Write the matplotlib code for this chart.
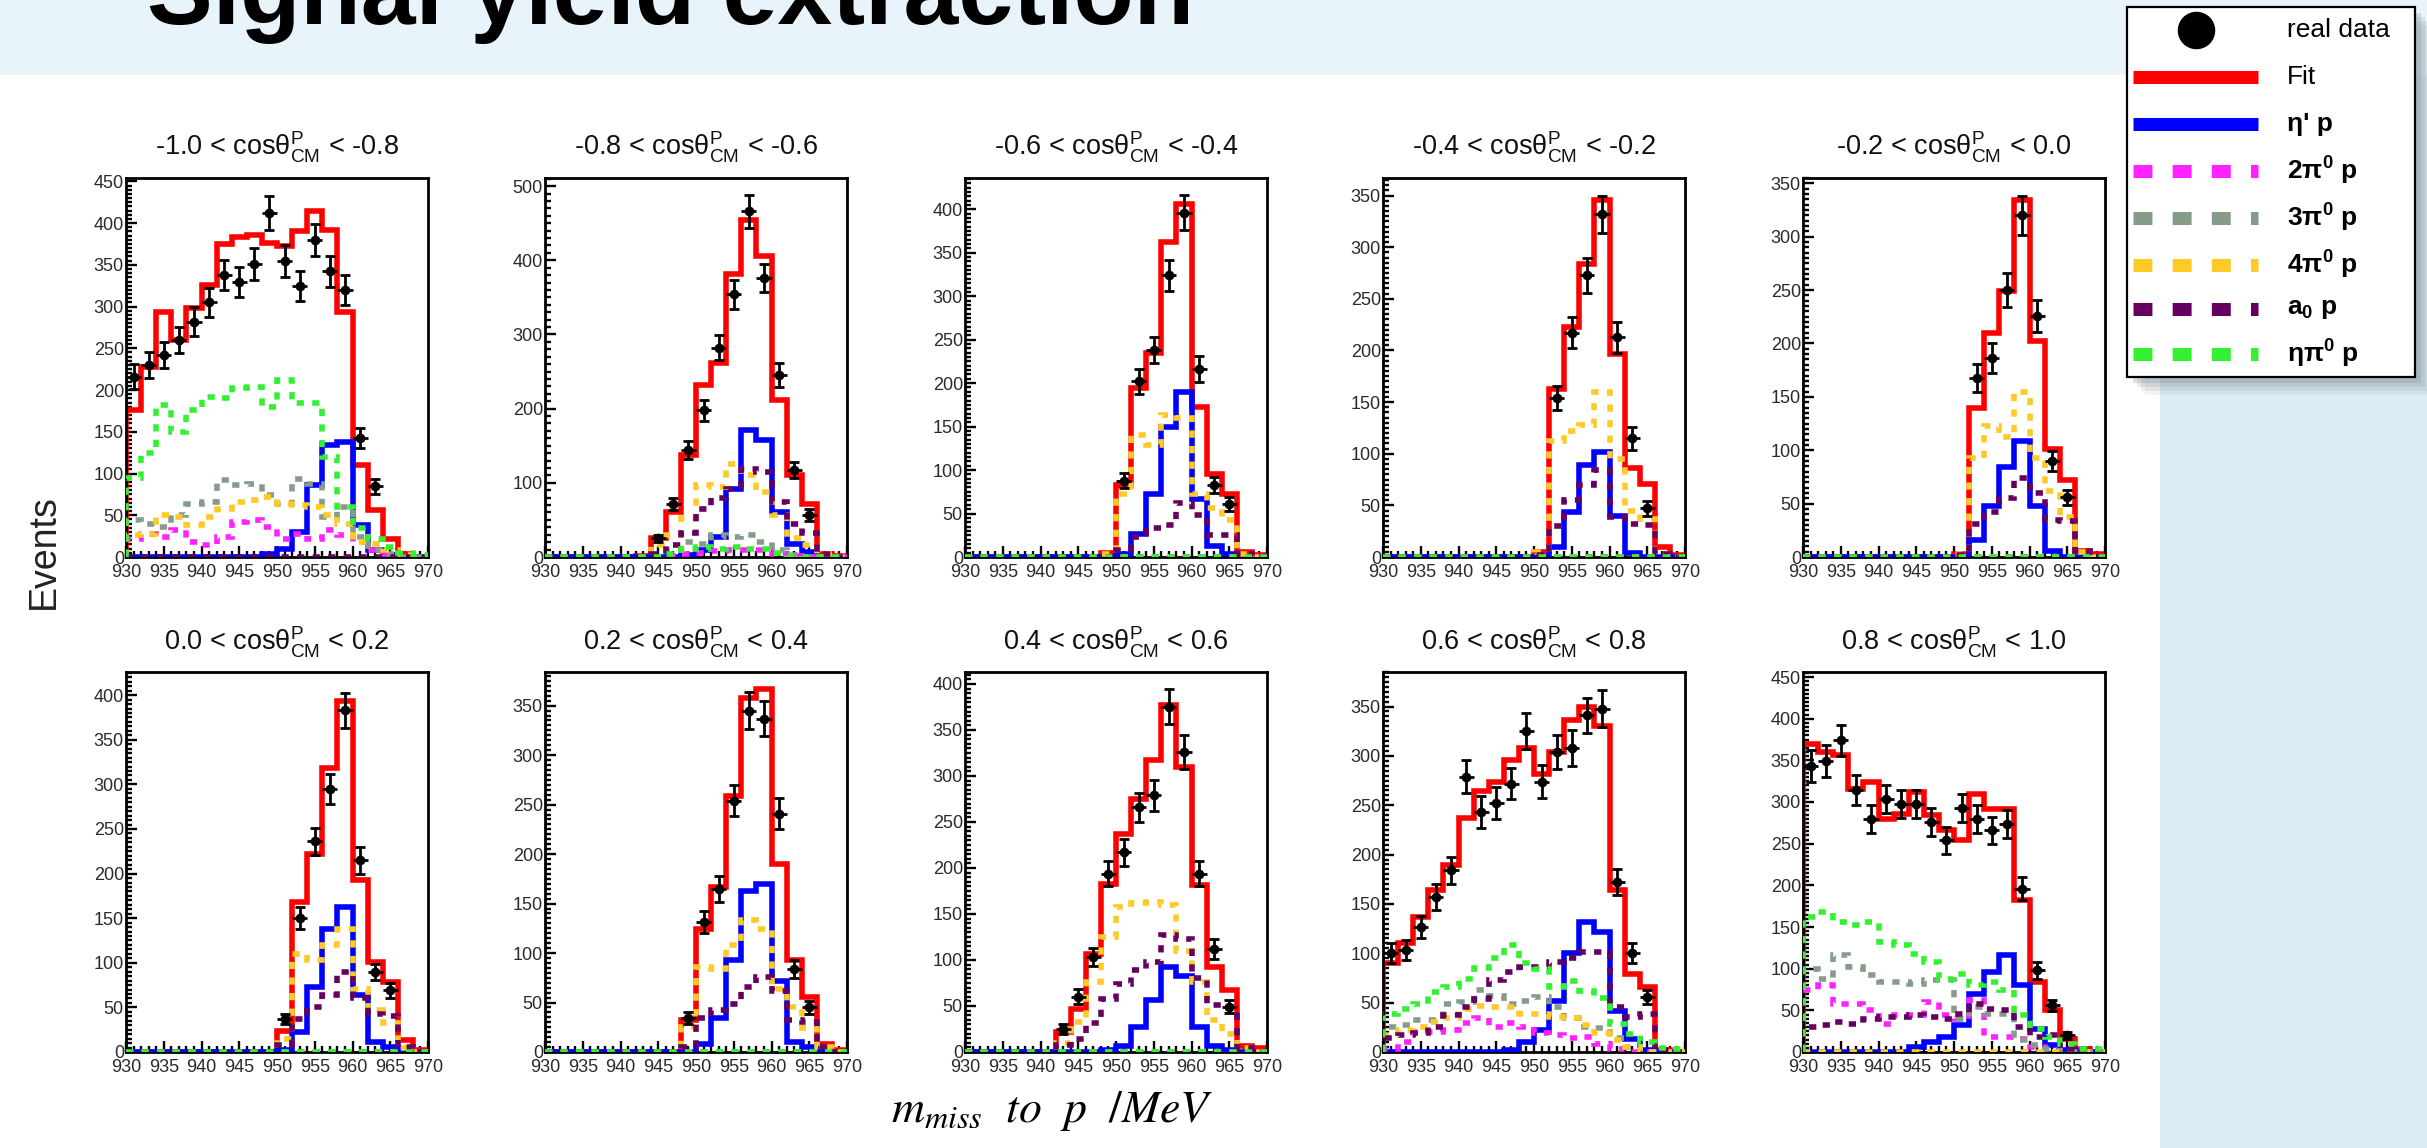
import numpy as np
import matplotlib
matplotlib.use("Agg")
import matplotlib.pyplot as plt
from matplotlib.ticker import MultipleLocator
from matplotlib.patches import Rectangle
from matplotlib.lines import Line2D

plt.rcParams['font.family'] = ['Liberation Sans', 'DejaVu Sans']
plt.rcParams['mathtext.fontset'] = 'custom'
plt.rcParams['mathtext.rm'] = 'Liberation Sans'
plt.rcParams['mathtext.it'] = 'Liberation Sans:italic'
plt.rcParams['mathtext.bf'] = 'Liberation Sans:bold'

nan = float('nan')

# ---------------- data ----------------
bin_edges = [930, 932, 934, 936, 938, 940, 942, 944, 946, 948, 950,
             952, 954, 956, 958, 960, 962, 964, 966, 968, 970]

cos_ranges = [("-1.0", "-0.8"), ("-0.8", "-0.6"), ("-0.6", "-0.4"), ("-0.4", "-0.2"),
              ("-0.2", "0.0"), ("0.0", "0.2"), ("0.2", "0.4"), ("0.4", "0.6"),
              ("0.6", "0.8"), ("0.8", "1.0")]

y_max = [454, 511, 436, 367, 355, 426, 384, 413, 385, 456]
y_step = [50, 100, 50, 50, 50, 50, 50, 50, 50, 50]

fit_counts = [
    [176, 228, 294, 260, 298, 326, 375, 383, 386, 376, 372, 390, 414, 392, 294, 110, 56, 22, 3, 0],
    [0, 0, 0, 0, 0, 0, 2, 25, 61, 137, 232, 261, 382, 455, 406, 212, 110, 72, 4, 1],
    [0, 0, 0, 0, 0, 0, 0, 0, 0, 5, 83, 194, 235, 362, 406, 173, 96, 73, 6, 2],
    [0, 0, 0, 0, 0, 0, 0, 0, 0, 0, 5, 163, 223, 284, 346, 197, 86, 71, 10, 2],
    [0, 0, 0, 0, 0, 0, 0, 0, 0, 0, 3, 140, 210, 249, 334, 202, 101, 72, 6, 3],
    [0, 0, 0, 0, 0, 0, 0, 0, 0, 0, 24, 168, 222, 318, 393, 193, 101, 79, 13, 2],
    [0, 0, 0, 0, 0, 0, 0, 0, 0, 32, 124, 167, 259, 358, 367, 190, 93, 56, 8, 2],
    [0, 0, 0, 0, 0, 0, 22, 47, 107, 183, 237, 275, 317, 377, 310, 181, 92, 67, 7, 4],
    [90, 110, 137, 164, 189, 237, 264, 274, 296, 308, 282, 304, 336, 350, 330, 164, 79, 66, 2, 0],
    [370, 360, 356, 316, 324, 280, 286, 312, 284, 266, 254, 310, 292, 292, 182, 84, 50, 16, 4, 0],
]

etap_counts = [
    [0, 0, 0, 0, 0, 0, 0, 0, 0, 3, 10, 30, 86, 134, 138, 38, 8, 2, 0, 0],
    [0, 0, 0, 0, 0, 0, 0, 0, 0, 3, 9, 27, 92, 171, 158, 61, 18, 7, 0, 0],
    [0, 0, 0, 0, 0, 0, 0, 0, 0, 0, 4, 27, 73, 150, 190, 67, 13, 4, 0, 0],
    [0, 0, 0, 0, 0, 0, 0, 0, 0, 0, 0, 10, 44, 89, 102, 40, 4, 0, 0, 0],
    [0, 0, 0, 0, 0, 0, 0, 0, 0, 0, 0, 16, 48, 84, 109, 48, 6, 0, 0, 0],
    [0, 0, 0, 0, 0, 0, 0, 0, 0, 0, 2, 22, 73, 138, 163, 64, 11, 6, 0, 0],
    [0, 0, 0, 0, 0, 0, 0, 0, 0, 0, 8, 34, 93, 163, 170, 72, 10, 5, 0, 0],
    [0, 0, 0, 0, 0, 0, 0, 0, 0, 2, 7, 27, 56, 92, 83, 27, 7, 2, 0, 0],
    [0, 0, 0, 0, 0, 0, 0, 0, 2, 10, 22, 52, 100, 132, 122, 42, 13, 2, 0, 0],
    [0, 0, 0, 0, 0, 0, 0, 6, 12, 18, 32, 70, 96, 116, 80, 28, 8, 2, 0, 0],
]

pi2_counts = [
    [22, 28, 24, 32, 18, 14, 24, 42, 44, 36, 22, 28, 22, 32, 26, 18, 8, 3, 0, 0],
    [0, 0, 0, 0, 0, 0, 0, 0, 2, 4, 6, 8, 10, 10, 10, 4, 2, 0, 0, 0],
    [0] * 20, [0] * 20, [0] * 20, [0] * 20, [0] * 20, [0] * 20,
    [3, 10, 20, 20, 22, 29, 34, 25, 29, 25, 19, 17, 14, 15, 8, 3, 0, 0, 0, 0],
    [74, 80, 58, 58, 50, 34, 44, 44, 60, 44, 40, 62, 18, 18, 16, 6, 2, 0, 0, 0],
]

pi3_counts = [
    [44, 40, 36, 50, 64, 66, 92, 86, 88, 74, 64, 94, 88, 48, 60, 24, 8, 3, 0, 0],
    [0, 0, 0, 0, 0, 0, 0, 0, 9, 20, 18, 29, 27, 29, 20, 9, 3, 0, 0, 0],
    [0] * 20, [0] * 20, [0] * 20, [0] * 20, [0] * 20, [0] * 20,
    [25, 27, 32, 32, 49, 51, 63, 57, 49, 52, 56, 46, 34, 25, 24, 14, 5, 0, 0, 0],
    [100, 88, 116, 102, 92, 84, 84, 82, 86, 86, 40, 54, 46, 46, 14, 8, 4, 0, 0, 0],
]

pi4_counts = [
    [26, 28, 50, 48, 38, 48, 58, 66, 68, 72, 64, 62, 60, 50, 40, 18, 16, 8, 2, 0],
    [0, 0, 0, 0, 0, 0, 0, 16, 29, 52, 97, 95, 125, 110, 88, 56, 25, 16, 4, 0],
    [0, 0, 0, 0, 0, 0, 0, 0, 0, 4, 72, 140, 129, 163, 160, 72, 56, 42, 4, 0],
    [0, 0, 0, 0, 0, 0, 0, 0, 0, 0, 5, 112, 122, 128, 160, 95, 45, 37, 3, 0],
    [0, 0, 0, 0, 0, 0, 0, 0, 0, 0, 3, 93, 123, 112, 155, 93, 62, 37, 5, 0],
    [0, 0, 0, 0, 0, 0, 0, 0, 0, 0, 15, 110, 103, 120, 138, 71, 47, 32, 4, 0],
    [0, 0, 0, 0, 0, 0, 0, 0, 0, 25, 86, 84, 108, 133, 124, 64, 45, 24, 5, 0],
    [0, 0, 0, 0, 0, 0, 10, 33, 76, 125, 158, 162, 163, 160, 110, 76, 35, 20, 4, 0],
    [17, 22, 25, 30, 34, 44, 47, 46, 46, 39, 39, 35, 34, 27, 19, 12, 5, 0, 0, 0],
    [0] * 20,
]

a0_counts = [
    [0] * 20,
    [0, 0, 0, 0, 0, 0, 0, 4, 16, 32, 65, 79, 92, 119, 115, 74, 45, 32, 4, 0],
    [0, 0, 0, 0, 0, 0, 0, 0, 0, 0, 8, 23, 33, 37, 62, 48, 25, 25, 4, 0],
    [0, 0, 0, 0, 0, 0, 0, 0, 0, 0, 2, 30, 55, 70, 84, 39, 32, 31, 3, 0],
    [0, 0, 0, 0, 0, 0, 0, 0, 0, 0, 2, 31, 42, 55, 74, 60, 35, 34, 6, 0],
    [0, 0, 0, 0, 0, 0, 0, 0, 0, 0, 8, 37, 50, 64, 90, 60, 43, 40, 6, 0],
    [0, 0, 0, 0, 0, 0, 0, 0, 0, 5, 34, 42, 49, 66, 76, 62, 32, 30, 5, 0],
    [0, 0, 0, 0, 0, 0, 8, 14, 31, 58, 74, 89, 98, 127, 123, 80, 51, 49, 4, 0],
    [14, 17, 19, 25, 37, 46, 54, 73, 81, 86, 86, 91, 95, 101, 101, 46, 35, 39, 2, 0],
    [30, 32, 36, 34, 40, 42, 42, 44, 42, 40, 46, 58, 52, 50, 30, 18, 20, 4, 0, 0],
]

etapi0_counts = [
    [95, 125, 182, 150, 176, 192, 190, 202, 204, 180, 212, 184, 184, 120, 60, 35, 22, 12, 5, 2],
    [0, 0, 0, 0, 0, 0, 0, 0, 4, 11, 13, 11, 13, 11, 11, 6, 2, 0, 0, 0],
    [0] * 20, [0] * 20, [0] * 20, [0] * 20, [0] * 20, [0] * 20,
    [39, 44, 49, 61, 66, 74, 85, 95, 108, 90, 84, 66, 72, 62, 55, 28, 18, 10, 4, 3],
    [162, 168, 156, 152, 156, 132, 128, 118, 108, 88, 94, 80, 84, 74, 45, 28, 18, 10, 4, 4],
]

data_counts = [
    [216, 230, 242, 260, 282, 305, 338, 329, 351, 412, 355, 325, 380, 342, 320, 143, 85, nan, nan, nan],
    [nan, nan, nan, nan, nan, nan, nan, 25, 71, 144, 198, 282, 354, 466, 376, 245, 117, 57, nan, nan],
    [nan, nan, nan, nan, nan, nan, nan, nan, nan, nan, 88, 202, 238, 324, 396, 216, 83, 61, nan, nan],
    [nan, nan, nan, nan, nan, nan, nan, nan, nan, nan, nan, 154, 217, 273, 332, 213, 115, 47, nan, nan],
    [nan, nan, nan, nan, nan, nan, nan, nan, nan, nan, nan, 168, 186, 250, 320, 226, 90, 56, nan, nan],
    [nan, nan, nan, nan, nan, nan, nan, nan, nan, nan, 37, 150, 236, 295, 383, 215, 90, 69, nan, nan],
    [nan, nan, nan, nan, nan, nan, nan, nan, nan, 34, 131, 165, 254, 345, 337, 241, 84, 45, nan, nan],
    [nan, nan, nan, nan, nan, nan, 25, 60, 103, 194, 217, 266, 279, 375, 326, 194, 112, 49, nan, nan],
    [100, 103, 127, 157, 184, 279, 243, 252, 272, 325, 274, 304, 308, 341, 348, 172, 100, 56, nan, nan],
    [343, 349, 374, 315, 280, 304, 298, 298, 276, 254, 293, 280, 266, 274, 196, 98, 56, 20, nan, nan],
]

data_errors = [
    [15, 15, 16, 16, 17, 17, 18, 18, 19, 20, 19, 18, 19, 18, 18, 12, 9, nan, nan, nan],
    [nan, nan, nan, nan, nan, nan, nan, 5, 8, 12, 14, 17, 19, 22, 19, 16, 11, 8, nan, nan],
    [nan, nan, nan, nan, nan, nan, nan, nan, nan, nan, 9, 14, 15, 18, 20, 15, 9, 8, nan, nan],
    [nan, nan, nan, nan, nan, nan, nan, nan, nan, nan, nan, 12, 15, 17, 18, 15, 11, 7, nan, nan],
    [nan, nan, nan, nan, nan, nan, nan, nan, nan, nan, nan, 13, 14, 16, 18, 15, 9, 7, nan, nan],
    [nan, nan, nan, nan, nan, nan, nan, nan, nan, nan, 6, 12, 15, 17, 20, 15, 9, 8, nan, nan],
    [nan, nan, nan, nan, nan, nan, nan, nan, nan, 6, 11, 13, 16, 19, 18, 16, 9, 7, nan, nan],
    [nan, nan, nan, nan, nan, nan, 5, 8, 10, 14, 15, 16, 17, 19, 18, 14, 11, 7, nan, nan],
    [10, 10, 11, 13, 14, 17, 16, 16, 16, 18, 17, 17, 18, 18, 19, 13, 10, 7, nan, nan],
    [19, 19, 19, 18, 17, 17, 17, 17, 17, 16, 17, 17, 16, 17, 14, 10, 7, 4, nan, nan],
]

legend_labels = ["real data", "Fit", "η' p", r"$\mathbf{2\pi^{0}\ p}$", r"$\mathbf{3\pi^{0}\ p}$",
                 r"$\mathbf{4\pi^{0}\ p}$", r"$\mathbf{a_{0}\ p}$", r"$\mathbf{\eta\pi^{0}\ p}$"]

# ---------------- style ----------------
C_FIT = '#ff0000'
C_ETAP = '#0000ff'
C_PI2 = '#ff22ff'
C_PI3 = '#879b8b'
C_PI4 = '#ffc926'
C_A0 = '#650060'
C_ETAPI0 = '#33f033'

W, H = 2427, 1148
fig = plt.figure(figsize=(W / 100, H / 100), dpi=100)
fig.patch.set_facecolor('white')


def fx(px):
    return px / W


def fy(py):
    return 1 - py / H


# slide backgrounds
fig.add_artist(Rectangle((0, fy(75)), 1, 75 / H, transform=fig.transFigure,
                         facecolor='#e9f4fa', edgecolor='none', zorder=-5))
fig.add_artist(Rectangle((fx(2160), 0), 1 - fx(2160), fy(75), transform=fig.transFigure,
                         facecolor='#dbecf6', edgecolor='none', zorder=-5))

fig.text(fx(147), fy(24), "Signal yield extraction", fontsize=71, fontweight='bold',
         family=['Liberation Sans Narrow', 'Liberation Sans'], va='baseline', ha='left', color='black')

col_left = [126, 545, 965, 1383, 1803]
row_top = [178, 672]
row_h = [379, 380]
ax_w = 302
title_base = [155, 650]

centers = [(bin_edges[k] + bin_edges[k + 1]) / 2 for k in range(len(bin_edges) - 1)]
half_w = [(bin_edges[k + 1] - bin_edges[k]) / 2 for k in range(len(bin_edges) - 1)]

LW = 4.0
dash = (0, (1.3, 1.5))

for i in range(10):
    r, c = divmod(i, 5)
    ax = fig.add_axes([fx(col_left[c]), fy(row_top[r] + row_h[r]), ax_w / W, row_h[r] / H])
    ax.stairs(fit_counts[i], bin_edges, color=C_FIT, lw=LW, joinstyle='miter', zorder=2)
    ax.stairs(etap_counts[i], bin_edges, color=C_ETAP, lw=LW, joinstyle='miter', zorder=3)
    for vals, col in [(pi2_counts[i], C_PI2), (pi3_counts[i], C_PI3), (pi4_counts[i], C_PI4),
                      (a0_counts[i], C_A0), (etapi0_counts[i], C_ETAPI0)]:
        ax.stairs(vals, bin_edges, color=col, lw=LW, linestyle=dash, capstyle='butt',
                  joinstyle='miter', zorder=4)
    ax.errorbar(centers, data_counts[i], yerr=data_errors[i], fmt='o', ms=6, color='black',
                ecolor='black', elinewidth=2.0, capsize=3.4, capthick=2.0, zorder=6)
    ax.errorbar(centers, data_counts[i], xerr=half_w, fmt='none', ecolor='black',
                elinewidth=2.0, capsize=0, zorder=6)
    ax.set_xlim(bin_edges[0], bin_edges[-1])
    ax.set_ylim(0, y_max[i])
    ax.xaxis.set_major_locator(MultipleLocator(5))
    ax.xaxis.set_minor_locator(MultipleLocator(1))
    ax.yaxis.set_major_locator(MultipleLocator(y_step[i]))
    ax.yaxis.set_minor_locator(MultipleLocator(y_step[i] / 10))
    ax.tick_params(which='both', direction='in', top=False, right=False, width=1.7, color='black',
                   labelsize=13, labelcolor='#2a2a2a')
    ax.tick_params(which='major', length=8)
    ax.tick_params(which='minor', length=4)
    ax.tick_params(axis='y', pad=1.5)
    ax.tick_params(axis='x', pad=5)
    for s in ax.spines.values():
        s.set_linewidth(2.0)
    lo, hi = cos_ranges[i]
    fig.text(fx(col_left[c] + ax_w / 2), fy(title_base[r]),
             lo + " < cosθ" + r"$^{\rm P}_{\rm CM}$" + " < " + hi,
             fontsize=19.5, ha='center', va='baseline', color='#111111')

fig.text(fx(44), fy(552), "Events", rotation=90, fontsize=27, ha='center', va='center', color='#222222')
fig.text(fx(1052), fy(1111), r"$m_{miss}\ \ to\ \ p\ \ /MeV$", fontsize=33, ha='center', va='center',
         math_fontfamily='stix', color='black')

# ---------------- legend ----------------
bx0, by0, bx1, by1 = 2127, 7, 2415, 377
for off, a in [(18, 0.10), (14, 0.14), (10, 0.18), (6, 0.25)]:
    fig.add_artist(Rectangle((fx(bx0 + off), fy(by1 + off)), (bx1 - bx0) / W, (by1 - by0) / H,
                             transform=fig.transFigure, facecolor='#7d8a94', alpha=a,
                             edgecolor='none', zorder=9))
fig.add_artist(Rectangle((fx(bx0), fy(by1)), (bx1 - bx0) / W, (by1 - by0) / H,
                         transform=fig.transFigure, facecolor='white', edgecolor='black',
                         lw=1.6, zorder=10))
row_y = [30, 77, 124, 171, 218, 265, 309, 354]
hx0, hx1 = 2133, 2258
fig.add_artist(Line2D([fx((hx0 + hx1) / 2)], [fy(row_y[0])], marker='o', ms=26, color='black',
                      transform=fig.transFigure, zorder=11))
leg_styles = [(C_FIT, '-'), (C_ETAP, '-'), (C_PI2, (0, (1.45, 1.55))), (C_PI3, (0, (1.45, 1.55))),
              (C_PI4, (0, (1.45, 1.55))), (C_A0, (0, (1.45, 1.55))), (C_ETAPI0, (0, (1.45, 1.55)))]
for k, (col, ls) in enumerate(leg_styles):
    yy = fy(row_y[k + 1])
    fig.add_artist(Line2D([fx(hx0), fx(hx1)], [yy, yy], color=col, lw=9.4, linestyle=ls,
                          solid_capstyle='butt', dash_capstyle='butt',
                          transform=fig.transFigure, zorder=11))
for k, lab in enumerate(legend_labels):
    fig.text(fx(2287), fy(row_y[k]), lab, fontsize=19, va='center', ha='left',
             fontweight='normal' if k < 2 else 'bold', color='black', zorder=12)

fig.savefig("out.png", dpi=100)
